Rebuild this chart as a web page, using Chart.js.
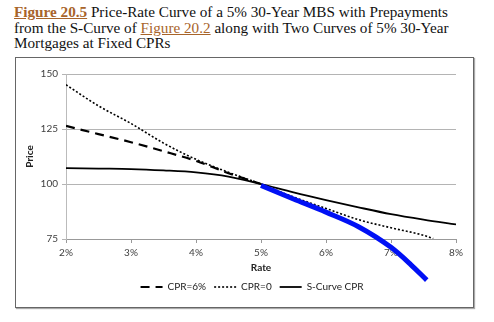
<!DOCTYPE html>
<html>
<head>
<meta charset="utf-8">
<script src="https://cdn.jsdelivr.net/npm/chart.js@4.4.1/dist/chart.umd.min.js"></script>
<style>
  body { margin: 0; background: #fff; width: 494px; height: 322px; position: relative; overflow: hidden; }
  #caption {
    position: absolute; left: 14px; top: 4px; width: 478px; white-space: nowrap;
    font-family: "Liberation Serif", serif; font-size: 15.2px; line-height: 15.7px; color: #111;
  }
  #caption a { color: #a8642a; text-decoration: underline; }
  #caption a.fig { font-weight: bold; }
  #box {
    position: absolute; left: 15px; top: 57px; width: 457px; height: 249px;
    border: 1px solid #666; box-shadow: 1px 1px 1px #aaa;
  }
  #box canvas { display: block; }
</style>
</head>
<body>
<div id="caption"><a class="fig">Figure 20.5</a> Price-Rate Curve of a 5% 30-Year MBS with Prepayments<br>from the S-Curve of <a>Figure 20.2</a> along with Two Curves of 5% 30-Year<br>Mortgages at Fixed CPRs</div>
<div id="box"><canvas id="price-chart" width="457" height="249"></canvas></div>
<script>
// rates in percent
var rates = [2, 2.5, 3, 3.5, 4, 4.5, 5, 5.5, 6, 6.5, 7, 7.5, 8];
var sCurvePrice = [107.2, 107.0, 106.8, 106.2, 105.3, 103.4, 100.0, 96.2, 92.7, 89.4, 86.3, 83.8, 81.6];
var cpr6Price = [126.4, 122.7, 119.0, 114.9, 110.5, 104.9, 100.0];
var cpr0Rates = [2, 2.5, 3, 3.5, 4, 4.5, 5, 5.5, 6, 6.5, 7, 7.5, 7.65];
var cpr0Price = [145.1, 135.5, 127.5, 118.6, 111.2, 105.3, 100.0, 94.1, 88.9, 83.8, 80.1, 76.7, 75.2];
var mbsRates = [5, 5.5, 6, 6.5, 7, 7.3, 7.55];
var mbsPrice = [99.3, 93.2, 87.2, 80.6, 71.2, 63.5, 56.3];
var yTicks = [75, 100, 125, 150];

function points(xs, ys) {
    return ys.map(function(y, i) { return { x: xs[i], y: y }; });
}

var tickFont = { family: 'Lato', size: 10 };

// legend sits a little right of the canvas centre
var legendShift = {
    id: 'legendShift',
    afterLayout: function(chart) {
        chart.legend.left += 16;
        chart.legend.right += 16;
    }
};

var chart = new Chart(document.getElementById('price-chart'), {
    type: 'line',
    data: {
        datasets: [{
            label: 'MBS',
            data: points(mbsRates, mbsPrice),
            borderColor: '#0010f5',
            borderWidth: 5,
            clip: false,
            order: 0
        }, {
            label: 'CPR=6%',
            data: points(rates, cpr6Price),
            borderColor: '#000',
            borderWidth: 2.2,
            borderDash: [9, 6],
            order: 3
        }, {
            label: 'CPR=0',
            data: points(cpr0Rates, cpr0Price),
            borderColor: '#000',
            borderWidth: 1.6,
            borderDash: [2, 2],
            order: 2
        }, {
            label: 'S-Curve CPR',
            data: points(rates, sCurvePrice),
            borderColor: '#000',
            borderWidth: 1.8,
            order: 1
        }]
    },
    options: {
        responsive: false,
        animation: false,
        layout: { padding: { left: 0, top: 16, right: 17, bottom: 5 } },
        elements: {
            point: { radius: 0 },
            line: { tension: 0.4, cubicInterpolationMode: 'monotone', fill: false }
        },
        scales: {
            x: {
                type: 'linear',
                min: 2,
                max: 8,
                ticks: {
                    stepSize: 1,
                    padding: 4,
                    color: '#404040',
                    font: tickFont,
                    callback: function(v) { return v + '%'; }
                },
                grid: { drawOnChartArea: false, drawTicks: true, tickLength: 4, color: '#999' },
                border: { color: '#999' },
                title: {
                    display: true,
                    text: 'Rate',
                    color: '#222',
                    font: { family: 'Lato', size: 10, weight: 'bold' },
                    padding: { top: 3, bottom: 0 }
                },
                afterFit: function(scale) { scale.height = 35; }
            },
            y: {
                min: 75,
                max: 150,
                afterBuildTicks: function(scale) {
                    scale.ticks = yTicks.map(function(v) { return { value: v }; });
                },
                ticks: { padding: 4, color: '#404040', font: tickFont },
                grid: { color: '#b4b4b4', tickLength: 4, lineWidth: 1 },
                border: { color: '#bbb' },
                title: {
                    display: true,
                    text: 'Price',
                    color: '#222',
                    font: { family: 'Lato', size: 10, weight: 'bold' },
                    padding: { top: 8, bottom: 0 }
                },
                afterFit: function(scale) { scale.width = 50; }
            }
        },
        plugins: {
            tooltip: { enabled: false },
            legend: {
                position: 'bottom',
                labels: {
                    usePointStyle: true,
                    pointStyle: 'line',
                    pointStyleWidth: 22,
                    padding: 8,
                    color: '#222',
                    font: { family: 'Lato', size: 10 },
                    // point style samples lose the dataset's dash, so copy it back
                    generateLabels: function(chart) {
                        var items = Chart.defaults.plugins.legend.labels.generateLabels(chart);
                        items.forEach(function(item) {
                            var ds = chart.data.datasets[item.datasetIndex];
                            item.lineDash = ds.borderDash || [];
                            item.lineWidth = ds.borderWidth;
                            item.strokeStyle = ds.borderColor;
                        });
                        return items;
                    },
                    filter: function(item) { return item.text !== 'MBS'; },
                    sort: function(a, b) { return a.datasetIndex - b.datasetIndex; }
                }
            }
        }
    },
    plugins: [legendShift]
});
</script>
</body>
</html>
